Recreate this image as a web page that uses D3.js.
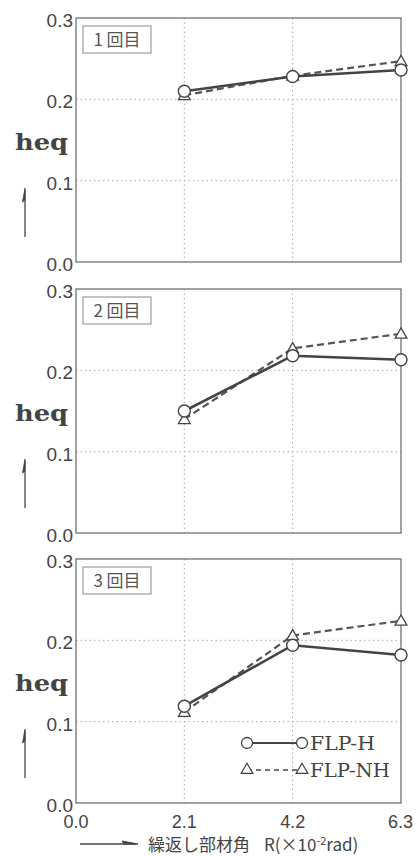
<!DOCTYPE html>
<html>
<head>
<meta charset="utf-8">
<script src="https://cdn.jsdelivr.net/npm/d3@7"></script>
<style>
  body { margin: 0; background: white; }
  #vis { width: 416px; height: 856px; }
</style>
</head>
<body>
<div id="vis"></div>
<script>
// values
var xValues = [2.1, 4.2, 6.3];
var xTicks = [0.0, 2.1, 4.2, 6.3];
var yTicks = [0.0, 0.1, 0.2, 0.3];
var panelNames = ["1 回目", "2 回目", "3 回目"];
var seriesNames = ["FLP-H", "FLP-NH"];
var flpH = [
    [0.210, 0.228, 0.236],
    [0.150, 0.218, 0.213],
    [0.119, 0.194, 0.182]
];
var flpNH = [
    [0.205, 0.229, 0.247],
    [0.140, 0.227, 0.245],
    [0.112, 0.206, 0.224]
];

var width = 416;
var height = 856;
var ink = '#444';
var slab = 'DejaVu Serif, serif';

var svg = d3.select('#vis')
    .append('svg')
    .attr('width', width)
    .attr('height', height);

var margin = { left: 76, right: 15 };
var panelTop = [18, 289, 559];
var panelH = 244;

var x_scale = d3.scaleLinear()
    .domain([0, 6.3])
    .range([margin.left, width - margin.right]);

var line = function(y_scale) {
    return d3.line()
        .x(function(d) { return x_scale(d[0]); })
        .y(function(d) { return y_scale(d[1]); });
};

var triangle = d3.symbol().type(d3.symbolTriangle).size(60);

panelNames.forEach(function(name, p) {
    var y_scale = d3.scaleLinear()
        .domain([0, 0.3])
        .range([panelTop[p] + panelH, panelTop[p]]);

    var g = svg.append('g');

    // grid
    g.selectAll('line.vgrid')
        .data([2.1, 4.2])
        .enter()
        .append('line')
        .attr('x1', function(d) { return x_scale(d); })
        .attr('x2', function(d) { return x_scale(d); })
        .attr('y1', y_scale(0.3))
        .attr('y2', y_scale(0))
        .style('stroke', '#aaa')
        .style('stroke-dasharray', '1.5,3');

    g.selectAll('line.hgrid')
        .data([0.1, 0.2])
        .enter()
        .append('line')
        .attr('x1', x_scale(0))
        .attr('x2', x_scale(6.3))
        .attr('y1', function(d) { return y_scale(d); })
        .attr('y2', function(d) { return y_scale(d); })
        .style('stroke', '#aaa')
        .style('stroke-dasharray', '1.5,3');

    g.append('rect')
        .attr('x', x_scale(0))
        .attr('y', y_scale(0.3))
        .attr('width', x_scale(6.3) - x_scale(0))
        .attr('height', y_scale(0) - y_scale(0.3))
        .style('fill', 'none')
        .style('stroke', '#666')
        .style('stroke-width', 1.2);

    // y tick labels
    g.selectAll('text.ytick')
        .data(yTicks)
        .enter()
        .append('text')
        .text(function(d) { return d.toFixed(1); })
        .attr('x', margin.left - 3)
        .attr('y', function(d) { return y_scale(d) + 9; })
        .attr('text-anchor', 'end')
        .style('font-family', 'Liberation Sans, Arial')
        .style('font-size', '19px')
        .style('fill', ink);

    // panel name box
    g.append('rect')
        .attr('x', 83)
        .attr('y', panelTop[p] + 8)
        .attr('width', 68)
        .attr('height', 27)
        .style('fill', 'none')
        .style('stroke', '#888');
    g.append('text')
        .text(name)
        .attr('x', 117)
        .attr('y', panelTop[p] + 28)
        .attr('text-anchor', 'middle')
        .style('font-family', 'Noto Sans CJK JP')
        .style('font-size', '17px')
        .style('fill', '#555');

    // y axis title
    g.append('text')
        .text('heq')
        .attr('x', 15)
        .attr('y', panelTop[p] + 132)
        .attr('textLength', 53)
        .attr('lengthAdjust', 'spacingAndGlyphs')
        .style('font-family', slab)
        .style('font-weight', 'bold')
        .style('font-size', '22px')
        .style('fill', ink);
    g.append('line')
        .attr('x1', 25).attr('x2', 25)
        .attr('y1', panelTop[p] + 219)
        .attr('y2', panelTop[p] + 172)
        .style('stroke', ink)
        .style('stroke-width', 1.3);
    g.append('path')
        .attr('d', 'M25,' + (panelTop[p] + 170) + 'L22.5,' + (panelTop[p] + 184) + 'L25,' + (panelTop[p] + 182) + 'Z')
        .style('fill', ink)
        .style('stroke', ink)
        .style('stroke-width', 0.8);

    var hData = xValues.map(function(v, i) { return [v, flpH[p][i]]; });
    var nhData = xValues.map(function(v, i) { return [v, flpNH[p][i]]; });

    g.append('path')
        .datum(nhData)
        .attr('d', line(y_scale))
        .style('fill', 'none')
        .style('stroke', '#555')
        .style('stroke-width', 2.2)
        .style('stroke-dasharray', '7,4');
    g.append('path')
        .datum(hData)
        .attr('d', line(y_scale))
        .style('fill', 'none')
        .style('stroke', ink)
        .style('stroke-width', 2.6);

    g.selectAll('path.tri')
        .data(nhData)
        .enter()
        .append('path')
        .attr('class', 'tri')
        .attr('d', triangle)
        .attr('transform', function(d) { return 'translate(' + x_scale(d[0]) + ',' + (y_scale(d[1]) + 1) + ')'; })
        .style('fill', 'white')
        .style('stroke', ink)
        .style('stroke-width', 1.3);
    g.selectAll('circle.pt')
        .data(hData)
        .enter()
        .append('circle')
        .attr('class', 'pt')
        .attr('cx', function(d) { return x_scale(d[0]); })
        .attr('cy', function(d) { return y_scale(d[1]); })
        .attr('r', 6)
        .style('fill', 'white')
        .style('stroke', ink)
        .style('stroke-width', 1.4);

    // legend in the last panel
    if (p == 2) {
        var lx1 = 247, lx2 = 302;
        seriesNames.forEach(function(s, i) {
            var ly = panelTop[p] + 184 + i * 27;
            g.append('line')
                .attr('x1', lx1).attr('x2', lx2)
                .attr('y1', ly).attr('y2', ly)
                .style('stroke', ink)
                .style('stroke-width', i == 0 ? 1.8 : 1.5)
                .style('stroke-dasharray', i == 0 ? null : '5,4');
            if (i == 0) {
                [lx1, lx2].forEach(function(cx) {
                    g.append('circle')
                        .attr('cx', cx).attr('cy', ly).attr('r', 5.5)
                        .style('fill', 'white').style('stroke', ink).style('stroke-width', 1.3);
                });
            } else {
                [lx1, lx2].forEach(function(cx) {
                    g.append('path')
                        .attr('d', triangle)
                        .attr('transform', 'translate(' + cx + ',' + ly + ')')
                        .style('fill', 'white').style('stroke', ink).style('stroke-width', 1.2);
                });
            }
            g.append('text')
                .text(s)
                .attr('x', 310)
                .attr('y', ly + 7)
                .attr('textLength', i == 0 ? 65 : 80)
                .attr('lengthAdjust', 'spacingAndGlyphs')
                .style('font-family', slab)
                .style('font-size', '18px')
                .style('fill', ink);
        });

        // x tick labels
        g.selectAll('text.xtick')
            .data(xTicks)
            .enter()
            .append('text')
            .text(function(d) { return d.toFixed(1); })
            .attr('x', function(d) { return d == 6.3 ? x_scale(d) + 12 : x_scale(d); })
            .attr('y', y_scale(0) + 25)
            .attr('text-anchor', function(d) { return d == 6.3 ? 'end' : 'middle'; })
            .style('font-family', 'Liberation Sans, Arial')
            .style('font-size', '18px')
            .style('fill', ink);
    }
});

// x axis title
svg.append('line')
    .attr('x1', 80).attr('x2', 136)
    .attr('y1', 844).attr('y2', 844)
    .style('stroke', ink)
    .style('stroke-width', 1.3);
svg.append('path')
    .attr('d', 'M138,844L122,841L124,844Z')
    .style('fill', ink)
    .style('stroke', ink);
var xt = svg.append('text')
    .attr('x', 148)
    .attr('y', 851)
    .style('font-family', 'Noto Sans CJK JP')
    .style('font-size', '17px')
    .style('fill', ink);
xt.append('tspan').text('繰返し部材角');
xt.append('tspan').attr('dx', 14).text('R(×10');
xt.append('tspan').attr('dy', -6).style('font-size', '11px').text('-2');
xt.append('tspan').attr('dy', 6).text('rad)');
</script>
</body>
</html>
